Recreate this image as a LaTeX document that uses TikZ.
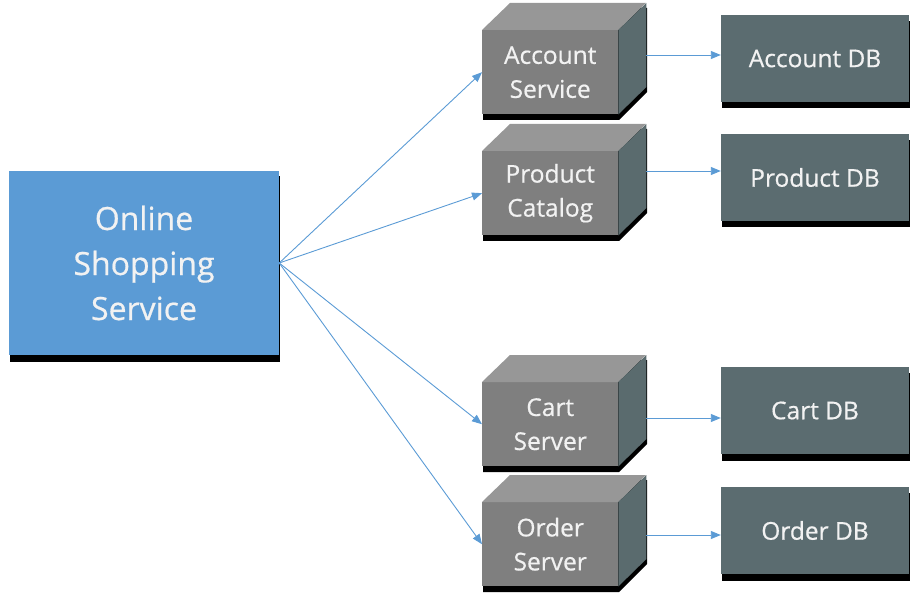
\documentclass[tikz,border=0pt]{standalone}
\usepackage{fontspec}
\setmainfont{Open Sans}[FakeBold=0.6]
\usetikzlibrary{arrows.meta}
\definecolor{mainblue}{HTML}{5B9BD5}
\definecolor{cubefront}{HTML}{7F7F7F}
\definecolor{cubetop}{HTML}{979797}
\definecolor{cubeside}{HTML}{5A6B6E}
\definecolor{dbfill}{HTML}{5B6C70}
\definecolor{txt}{HTML}{F2F2F2}
\newcommand{\srvcube}[4]{%
  \fill[black] (#2+1,#3+5) -- (#2+29,#3-22) -- (#2+165,#3-22) -- (#2+165,#3+62) -- (#2+137,#3+90) -- (#2+1,#3+90) -- cycle;
  \node[front, anchor=north west] (#1) at (#2,#3) {#4};
  \fill[cubetop] (#1.north west) -- ++(28,-27) -- ++(136,0) -- (#1.north east) -- cycle;
  \fill[cubeside] (#1.north east) -- ++(28,-27) -- ++(0,84) -- (#1.south east) -- cycle;
}
\newcommand{\dbnode}[3]{%
  \fill[black] (722,#2-37.5) rectangle (910,#2+50);
  \node[dbbox] (#1) at (815,#2) {#3};
}
\begin{document}
\begin{tikzpicture}[x=1pt,y=-1pt,
  conn/.style={draw=mainblue, line width=0.9pt, -{Triangle[length=10pt,width=8pt]}},
  front/.style={fill=cubefront, text=txt, minimum width=136pt, minimum height=84pt, inner sep=0pt, align=center, font=\fontsize{24.5}{34}\selectfont},
  dbbox/.style={fill=dbfill, text=txt, minimum width=188pt, minimum height=87pt, inner sep=0pt, font=\fontsize{24.5}{34}\selectfont}]
\useasboundingbox (0,0) rectangle (918,612);

% main service
\fill[black] (10,176) rectangle (280,362);
\node[fill=mainblue, minimum width=270pt, minimum height=184pt, inner sep=0pt, text=txt, align=center,
      font=\fontsize{32}{45}\selectfont] (main) at (144,263) {Online\\Shopping\\Service};

% service cubes
\srvcube{acc}{482}{30}{Account\\Service}
\srvcube{prod}{482}{151}{Product\\Catalog}
\srvcube{cart}{482}{382}{Cart\\Server}
\srvcube{ord}{482}{502}{Order\\Server}

% databases
\dbnode{accdb}{58.5}{Account DB}
\dbnode{proddb}{177.5}{Product DB}
\dbnode{cartdb}{410.5}{Cart DB}
\dbnode{orddb}{530.5}{Order DB}

% connectors from main
\draw[conn] (main.east) -- (acc.west);
\draw[conn] (main.east) -- (prod.west);
\draw[conn] (main.east) -- (cart.west);
\draw[conn] (main.east) -- (ord.west);

% connectors to databases
\coordinate (accR) at (646,55);
\coordinate (prodR) at (646,171);
\coordinate (cartR) at (646,418);
\coordinate (ordR) at (646,535);
\draw[conn] (accR) -- (accdb.west |- accR);
\draw[conn] (prodR) -- (proddb.west |- prodR);
\draw[conn] (cartR) -- (cartdb.west |- cartR);
\draw[conn] (ordR) -- (orddb.west |- ordR);
\end{tikzpicture}
\end{document}
